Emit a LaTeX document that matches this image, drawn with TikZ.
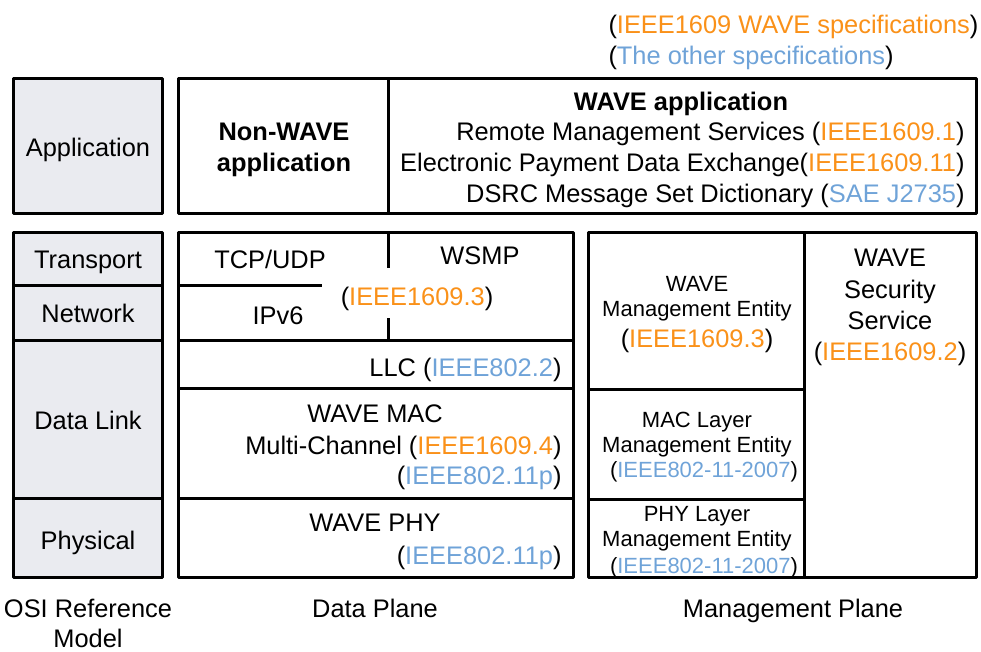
\documentclass[tikz,border=0pt]{standalone}
\usepackage{fontspec}
\setmainfont{Liberation Sans}
\definecolor{ieeeor}{RGB}{250,145,25}
\definecolor{othbl}{RGB}{111,163,216}
\definecolor{osigray}{RGB}{234,235,240}
\newcommand{\orn}[1]{\textcolor{ieeeor}{#1}}
\newcommand{\blu}[1]{\textcolor{othbl}{#1}}
\begin{document}
\begin{tikzpicture}[x=1pt,y=-1pt,line width=3pt,line join=round,
  lbl/.style={inner sep=0pt,font=\fontsize{25.4}{30}\selectfont,anchor=base},
  sml/.style={inner sep=0pt,font=\fontsize{22}{26}\selectfont,anchor=base},
  osibox/.style={draw,fill=osigray},
  plainbox/.style={draw}]
\useasboundingbox (0,0) rectangle (981,651);
% OSI column
\draw[osibox] (13,78) rectangle (162,213);
\draw[osibox] (13,232) rectangle (162,577);
\draw (13,285) -- (162,285);
\draw (13,340) -- (162,340);
\draw (13,498) -- (162,498);
% Application row
\draw[plainbox] (178,78) rectangle (976,213);
\draw (388,78) -- (388,213);
% Data plane
\draw[plainbox] (178,232) rectangle (573,577);
\draw (178,285) -- (322,285);
\draw (388,232) -- (388,268);
\draw (388,318) -- (388,340);
\draw (178,340) -- (573,340);
\draw (178,388) -- (573,388);
\draw (178,498) -- (573,498);
% Management plane
\draw[plainbox] (588,232) rectangle (976,577);
\draw (804,232) -- (804,577);
\draw (588,389) -- (804,389);
\draw (588,499) -- (804,499);

% Legend
\node[lbl,anchor=base west] (leg1) at (607,33) {(\orn{IEEE1609 WAVE specifications})};
\node[lbl,anchor=base west] (leg2) at (607,64) {(\blu{The other specifications})};

% OSI labels
\node[lbl] (osiapp) at (88,156) {Application};
\node[lbl] (ositr) at (88,268) {Transport};
\node[lbl] (osinet) at (88,322) {Network};
\node[lbl] (osidl) at (88,429) {Data Link};
\node[lbl] (osiph) at (88,549) {Physical};

% Application texts
\node[lbl,font=\fontsize{25.4}{30}\selectfont\bfseries] (nw1) at (284,140) {Non-WAVE};
\node[lbl,font=\fontsize{25.4}{30}\selectfont\bfseries] (nw2) at (284,171) {application};
\node[lbl,font=\fontsize{25.4}{30}\selectfont\bfseries] (wa) at (681,110) {WAVE application};
\node[lbl,anchor=base east] (wa1) at (966,140) {Remote Management Services (\orn{IEEE1609.1})};
\node[lbl,anchor=base east] (wa2) at (966,171) {Electronic Payment Data Exchange(\orn{IEEE1609.11})};
\node[lbl,anchor=base east] (wa3) at (966,202) {DSRC Message Set Dictionary (\blu{SAE J2735})};

% Data plane texts
\node[lbl] (tcp) at (270,268) {TCP/UDP};
\node[lbl] (wsmp) at (480,264) {WSMP};
\node[lbl] (ieee3) at (417,305) {(\orn{IEEE1609.3})};
\node[lbl] (ipv6) at (278,324) {IPv6};
\node[lbl,anchor=base east] (llc) at (563,376) {LLC (\blu{IEEE802.2})};
\node[lbl] (mac) at (375,422) {WAVE MAC};
\node[lbl,anchor=base east] (mc) at (563,454) {Multi-Channel (\orn{IEEE1609.4})};
\node[lbl,anchor=base east] (mac11p) at (563,484) {(\blu{IEEE802.11p})};
\node[lbl] (phy) at (375,531) {WAVE PHY};
\node[lbl,anchor=base east] (phy11p) at (563,564) {(\blu{IEEE802.11p})};

% Management plane texts
\node[sml] (wme1) at (697,291) {WAVE};
\node[sml] (wme2) at (697,316) {Management Entity};
\node[lbl] (wme3) at (697,347) {(\orn{IEEE1609.3})};
\node[sml] (mlme1) at (697,427) {MAC Layer};
\node[sml] (mlme2) at (697,452) {Management Entity};
\node[sml] (mlme3) at (704,477) {(\blu{IEEE802-11-2007})};
\node[sml] (plme1) at (697,521) {PHY Layer};
\node[sml] (plme2) at (697,546) {Management Entity};
\node[sml] (plme3) at (704,573) {(\blu{IEEE802-11-2007})};
\node[lbl] (wss1) at (890,266) {WAVE};
\node[lbl] (wss2) at (890,298) {Security};
\node[lbl] (wss3) at (890,329) {Service};
\node[lbl] (wss4) at (890,360) {(\orn{IEEE1609.2})};

% Captions
\node[lbl] (cap1) at (88,617) {OSI Reference};
\node[lbl] (cap1b) at (88,647) {Model};
\node[lbl] (cap2) at (375,617) {Data Plane};
\node[lbl] (cap3) at (793,617) {Management Plane};
\end{tikzpicture}
\end{document}
